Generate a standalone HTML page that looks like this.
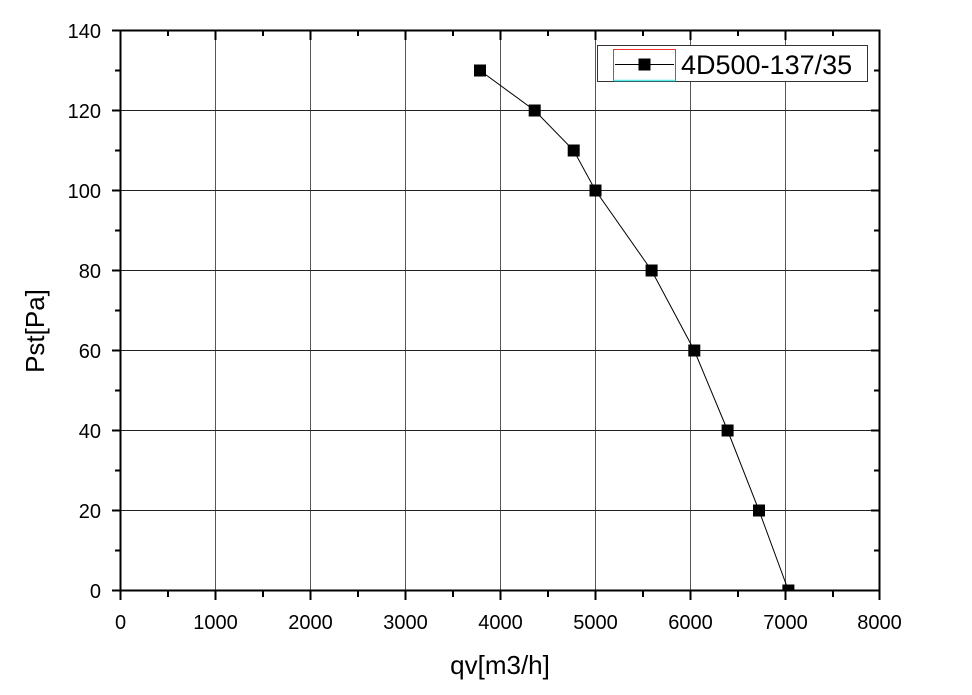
<!DOCTYPE html>
<html><head><style>html,body{margin:0;padding:0;background:#fff}</style></head>
<body>
<svg width="972" height="690" xmlns="http://www.w3.org/2000/svg" font-family="Liberation Sans, Arial, sans-serif">
<defs><clipPath id="c"><rect x="120.5" y="30.5" width="759" height="560"/></clipPath></defs>
<rect width="972" height="690" fill="#fff"/>
<g stroke="#000" stroke-width="1" fill="none">
<path d="M215.5 30.5V590.5M310.5 30.5V590.5M405.5 30.5V590.5M500.5 30.5V590.5M595.5 30.5V590.5M690.5 30.5V590.5M785.5 30.5V590.5" stroke="#555"/>
<path d="M120.5 110.5H879.5M120.5 190.5H879.5M120.5 270.5H879.5M120.5 350.5H879.5M120.5 430.5H879.5M120.5 510.5H879.5" stroke="#222"/>
</g>
<g stroke="#000" stroke-width="2" fill="none">
<rect x="120.5" y="30.5" width="759" height="560"/>
<path d="M112 30.5H120M112 110.5H120M112 190.5H120M112 270.5H120M112 350.5H120M112 430.5H120M112 510.5H120M112 590.5H120"/>
<path d="M115 70.5H120M115 150.5H120M115 230.5H120M115 310.5H120M115 390.5H120M115 470.5H120M115 550.5H120"/>
<path d="M871 30.5H879M871 110.5H879M871 190.5H879M871 270.5H879M871 350.5H879M871 430.5H879M871 510.5H879"/>
<path d="M874 70.5H879M874 150.5H879M874 230.5H879M874 310.5H879M874 390.5H879M874 470.5H879M874 550.5H879"/>
<path d="M120.5 591V600M215.5 591V600M310.5 591V600M405.5 591V600M500.5 591V600M595.5 591V600M690.5 591V600M785.5 591V600M879.5 591V600"/>
<path d="M168 591V597M263 591V597M358 591V597M453 591V597M548 591V597M643 591V597M738 591V597M833 591V597"/>
<path d="M215.5 31V40M310.5 31V40M405.5 31V40M500.5 31V40M595.5 31V40M690.5 31V40M785.5 31V40"/>
<path d="M168 31V36M263 31V36M358 31V36M453 31V36M548 31V36M643 31V36M738 31V36M833 31V36"/>
</g>
<g font-size="20" fill="#000" text-anchor="end">
<text x="101" y="38">140</text><text x="101" y="118">120</text><text x="101" y="198">100</text>
<text x="101" y="278">80</text><text x="101" y="358">60</text><text x="101" y="438">40</text>
<text x="101" y="518">20</text><text x="101" y="598">0</text>
</g>
<g font-size="20" fill="#000" text-anchor="middle">
<text x="120.5" y="629">0</text><text x="215.5" y="629">1000</text><text x="310.5" y="629">2000</text>
<text x="405.5" y="629">3000</text><text x="500.5" y="629">4000</text><text x="595.5" y="629">5000</text>
<text x="690.5" y="629">6000</text><text x="785.5" y="629">7000</text><text x="879.5" y="629">8000</text>
</g>
<text x="500" y="674" font-size="26" text-anchor="middle">qv[m3/h]</text>
<text transform="translate(44 331) rotate(-90)" font-size="26" text-anchor="middle">Pst[Pa]</text>
<g clip-path="url(#c)">
<polyline fill="none" stroke="#000" stroke-width="1" points="480,70.5 534.7,110.5 573.7,150.5 595.5,190.5 651.6,270.5 694.3,350.5 727.6,430.5 759,510.5 788.4,590.5"/>
<g fill="#000">
<rect x="474" y="64.5" width="12" height="12"/><rect x="528.7" y="104.5" width="12" height="12"/>
<rect x="567.7" y="144.5" width="12" height="12"/><rect x="589.5" y="184.5" width="12" height="12"/>
<rect x="645.6" y="264.5" width="12" height="12"/><rect x="688.3" y="344.5" width="12" height="12"/>
<rect x="721.6" y="424.5" width="12" height="12"/><rect x="753" y="504.5" width="12" height="12"/>
<rect x="782.4" y="584.5" width="12" height="12"/>
</g>
</g>
<rect x="597.5" y="45.5" width="270" height="36" fill="#fff" stroke="#333" stroke-width="1"/>
<rect x="613.5" y="49.5" width="62" height="31" fill="none" stroke="#e33" stroke-width="1"/>
<line x1="613.5" y1="80.5" x2="675.5" y2="80.5" stroke="#5ee" stroke-width="1.5"/>
<line x1="615" y1="64.5" x2="674" y2="64.5" stroke="#000" stroke-width="1"/>
<rect x="638.5" y="58.5" width="12" height="12" fill="#000"/>
<text x="681" y="74" font-size="27">4D500-137/35</text>
</svg>
</body></html>
